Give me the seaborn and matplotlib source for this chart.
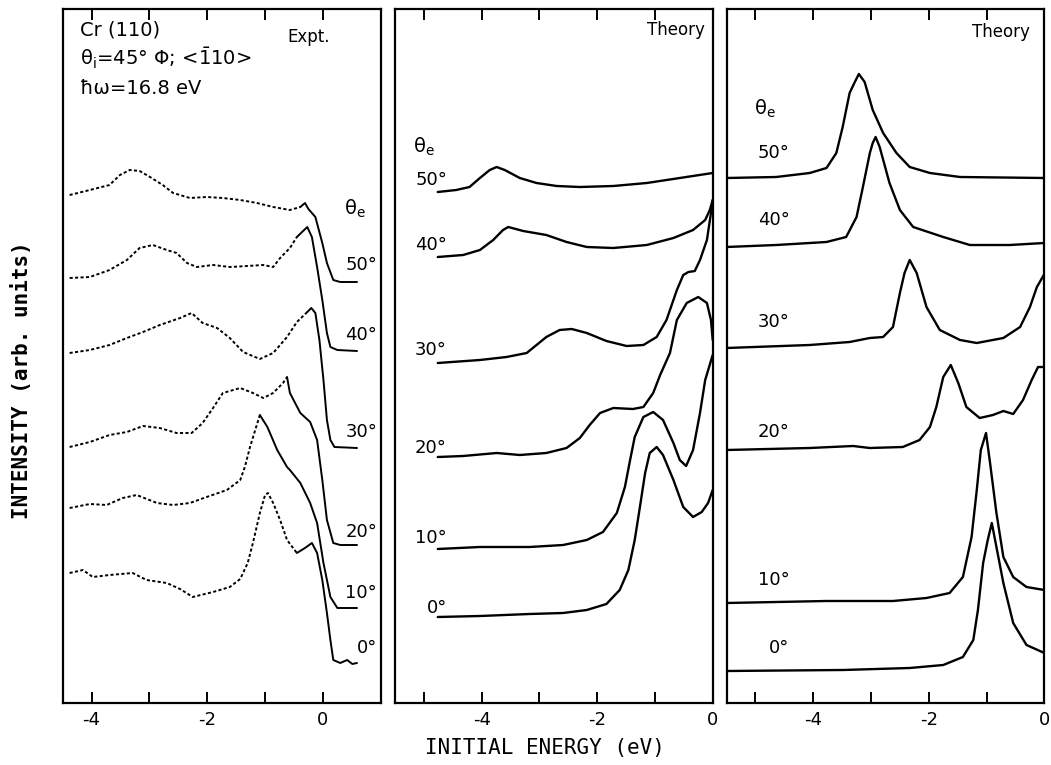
import numpy as np
import pandas as pd
import matplotlib
matplotlib.use("Agg")
import matplotlib.pyplot as plt
import seaborn as sns
from matplotlib.ticker import MultipleLocator, FuncFormatter

# ---------------- data (energy in eV, stacked intensity in arb. units) ----------------
angles = [50, 40, 30, 20, 10, 0]
angle_labels = ["50°", "40°", "30°", "20°", "10°", "0°"]

# Experiment (panel 1); split_x = energy where the trace turns from dotted to solid
expt50_x = [-4.38, -4.03, -3.69, -3.51, -3.34, -3.17, -2.99, -2.77, -2.59, -2.30, -2.01, -1.73, -1.43, -1.14, -0.86, -0.57, -0.39, -0.31, -0.25, -0.13, -0.01, 0.07, 0.18, 0.30, 0.59]
expt50_y = [50.8, 51.3, 51.8, 52.8, 53.3, 53.2, 52.6, 51.8, 51.0, 50.5, 50.6, 50.5, 50.3, 50.0, 49.6, 49.3, 49.6, 50.0, 49.4, 48.6, 46.0, 44.0, 42.3, 42.1, 42.1]
expt40_x = [-4.38, -4.03, -3.69, -3.39, -3.17, -2.94, -2.70, -2.53, -2.35, -2.18, -1.90, -1.61, -1.31, -1.03, -0.86, -0.74, -0.57, -0.45, -0.27, -0.19, -0.10, -0.01, 0.07, 0.13, 0.25, 0.59]
expt40_y = [42.5, 42.6, 43.3, 44.3, 45.5, 45.8, 45.3, 45.0, 44.0, 43.6, 43.8, 43.6, 43.7, 43.8, 43.6, 44.5, 45.5, 46.6, 47.6, 46.6, 43.6, 40.3, 37.0, 35.6, 35.3, 35.2]
expt30_x = [-4.38, -4.03, -3.69, -3.39, -3.11, -2.82, -2.47, -2.27, -2.08, -1.83, -1.61, -1.38, -1.09, -0.86, -0.62, -0.45, -0.27, -0.20, -0.13, -0.06, 0.01, 0.07, 0.13, 0.20, 0.59]
expt30_y = [35.0, 35.3, 35.8, 36.5, 37.1, 37.8, 38.5, 39.0, 38.0, 37.5, 36.5, 35.1, 34.4, 35.0, 36.6, 38.1, 39.1, 39.5, 39.0, 36.3, 32.3, 28.3, 26.3, 25.6, 25.5]
expt20_x = [-4.38, -4.03, -3.69, -3.39, -3.11, -2.82, -2.53, -2.27, -2.08, -1.90, -1.73, -1.43, -1.21, -1.03, -0.86, -0.69, -0.62, -0.57, -0.39, -0.22, -0.10, -0.01, 0.07, 0.18, 0.30, 0.59]
expt20_y = [25.6, 26.1, 26.8, 27.1, 27.7, 27.5, 27.0, 27.0, 28.0, 29.5, 31.0, 31.5, 31.0, 30.5, 31.0, 32.0, 32.6, 31.0, 29.0, 28.1, 26.3, 22.3, 18.3, 16.0, 15.8, 15.8]
expt10_x = [-4.38, -4.03, -3.74, -3.46, -3.22, -2.87, -2.59, -2.30, -2.01, -1.66, -1.43, -1.35, -1.26, -1.17, -1.09, -0.96, -0.79, -0.62, -0.57, -0.39, -0.22, -0.10, 0.01, 0.13, 0.25, 0.59]
expt10_y = [19.5, 19.9, 19.8, 20.5, 20.8, 20.0, 19.8, 20.0, 20.6, 21.3, 22.3, 23.6, 25.6, 27.3, 28.8, 27.6, 25.3, 23.6, 23.3, 22.0, 20.0, 18.0, 14.0, 10.6, 9.5, 9.5]
expt0_x = [-4.38, -4.15, -3.98, -3.69, -3.29, -3.05, -2.70, -2.47, -2.25, -1.90, -1.61, -1.43, -1.30, -1.21, -1.09, -1.00, -0.95, -0.86, -0.74, -0.62, -0.45, -0.31, -0.19, -0.10, -0.01, 0.07, 0.13, 0.18, 0.30, 0.42, 0.51, 0.59]
expt0_y = [13.0, 13.3, 12.6, 12.8, 13.0, 12.3, 12.0, 11.4, 10.6, 11.1, 11.6, 12.4, 14.0, 16.0, 19.0, 20.8, 21.0, 20.0, 18.3, 16.3, 15.0, 15.5, 16.0, 15.0, 12.3, 9.0, 6.3, 4.3, 4.0, 4.3, 3.9, 4.0]
expt_split = [-0.39, -0.45, -0.27, -0.62, -1.09, -0.45]

# Theory, panel 2
th2_50_x = [-4.76, -4.44, -4.21, -4.03, -3.86, -3.74, -3.60, -3.34, -3.05, -2.70, -2.30, -1.72, -1.14, -0.57, 0.0]
th2_50_y = [51.1, 51.3, 51.6, 52.5, 53.3, 53.6, 53.3, 52.5, 52.0, 51.7, 51.6, 51.7, 52.0, 52.5, 53.0]
th2_40_x = [-4.76, -4.32, -4.03, -3.80, -3.63, -3.54, -3.28, -2.88, -2.53, -2.18, -1.72, -1.14, -0.68, -0.34, -0.13, -0.05, 0.0]
th2_40_y = [44.6, 44.8, 45.3, 46.3, 47.3, 47.6, 47.2, 46.8, 46.1, 45.6, 45.5, 45.8, 46.5, 47.3, 48.3, 49.3, 50.3]
th2_30_x = [-4.76, -4.03, -3.57, -3.22, -3.05, -2.88, -2.65, -2.44, -2.18, -1.84, -1.49, -1.20, -0.97, -0.80, -0.62, -0.51, -0.42, -0.31, -0.22, -0.10, -0.03, 0.0]
th2_30_y = [34.0, 34.3, 34.6, 35.0, 35.8, 36.6, 37.3, 37.4, 37.0, 36.2, 35.7, 35.8, 36.6, 38.3, 41.3, 42.8, 43.1, 43.2, 44.3, 46.3, 49.0, 50.3]
th2_20_x = [-4.76, -4.32, -3.74, -3.34, -2.88, -2.53, -2.30, -2.13, -1.95, -1.72, -1.38, -1.20, -1.03, -0.91, -0.74, -0.62, -0.45, -0.25, -0.10, -0.03, 0.0]
th2_20_y = [24.6, 24.7, 25.0, 24.8, 25.0, 25.5, 26.5, 27.8, 29.0, 29.5, 29.4, 29.6, 31.0, 32.8, 35.0, 38.3, 40.0, 40.6, 40.0, 38.3, 36.3]
th2_10_x = [-4.76, -4.03, -3.17, -2.59, -2.18, -1.90, -1.66, -1.52, -1.43, -1.35, -1.20, -1.03, -0.86, -0.68, -0.57, -0.46, -0.34, -0.22, -0.13, 0.0]
th2_10_y = [15.4, 15.6, 15.6, 15.8, 16.3, 17.1, 19.0, 21.6, 24.3, 26.6, 28.6, 29.1, 28.3, 26.0, 24.3, 23.7, 25.3, 29.0, 32.3, 34.8]
th2_0_x = [-4.76, -4.03, -3.17, -2.59, -2.18, -1.84, -1.61, -1.46, -1.35, -1.26, -1.17, -1.09, -0.97, -0.86, -0.68, -0.51, -0.34, -0.19, -0.08, 0.0]
th2_0_y = [8.6, 8.7, 8.9, 9.0, 9.3, 9.9, 11.3, 13.3, 16.3, 19.6, 23.0, 25.0, 25.6, 24.8, 22.3, 19.6, 18.6, 19.1, 20.0, 21.3]

# Theory, panel 3
th3_50_x = [-5.5, -4.64, -4.06, -3.77, -3.60, -3.49, -3.37, -3.28, -3.21, -3.11, -2.97, -2.79, -2.56, -2.33, -1.98, -1.46, 0.0]
th3_50_y = [52.5, 52.6, 53.0, 53.5, 55.0, 57.6, 61.0, 62.1, 62.9, 62.1, 59.3, 57.0, 55.0, 53.6, 53.0, 52.6, 52.5]
th3_40_x = [-5.5, -4.64, -3.77, -3.43, -3.25, -3.14, -3.02, -2.97, -2.92, -2.85, -2.68, -2.50, -2.27, -1.75, -1.29, -0.60, 0.0]
th3_40_y = [45.6, 45.8, 46.1, 46.6, 48.6, 51.6, 55.0, 56.0, 56.6, 55.6, 52.0, 49.3, 47.6, 46.6, 45.8, 45.8, 46.0]
th3_30_x = [-5.5, -4.06, -3.37, -3.02, -2.79, -2.62, -2.50, -2.42, -2.33, -2.21, -2.04, -1.81, -1.46, -1.17, -0.71, -0.42, -0.25, -0.13, 0.0]
th3_30_y = [35.5, 35.8, 36.1, 36.5, 36.6, 37.6, 41.0, 43.0, 44.3, 43.0, 39.6, 37.3, 36.3, 36.0, 36.5, 37.6, 39.6, 41.6, 42.9]
th3_20_x = [-5.5, -4.06, -3.31, -3.02, -2.45, -2.16, -1.98, -1.87, -1.75, -1.62, -1.49, -1.35, -1.12, -0.89, -0.71, -0.54, -0.37, -0.22, -0.11, 0.0]
th3_20_y = [25.3, 25.5, 25.7, 25.5, 25.6, 26.3, 27.6, 29.6, 32.6, 33.8, 32.0, 29.6, 28.5, 28.8, 29.2, 28.9, 30.3, 32.3, 33.6, 33.6]
th3_10_x = [-5.5, -3.77, -2.62, -2.04, -1.64, -1.41, -1.26, -1.17, -1.10, -1.01, -0.94, -0.83, -0.71, -0.54, -0.31, 0.0]
th3_10_y = [10.0, 10.2, 10.2, 10.5, 11.0, 12.6, 16.6, 21.3, 25.3, 27.0, 24.0, 19.0, 14.6, 12.6, 11.6, 11.3]
th3_0_x = [-5.5, -3.49, -2.33, -1.75, -1.41, -1.23, -1.15, -1.06, -0.98, -0.91, -0.83, -0.71, -0.54, -0.31, 0.0]
th3_0_y = [3.2, 3.3, 3.5, 3.8, 4.6, 6.3, 9.3, 14.0, 16.3, 18.0, 15.6, 12.0, 8.0, 5.8, 5.0]

expt_x = [expt50_x, expt40_x, expt30_x, expt20_x, expt10_x, expt0_x]
expt_y = [expt50_y, expt40_y, expt30_y, expt20_y, expt10_y, expt0_y]
th2_x = [th2_50_x, th2_40_x, th2_30_x, th2_20_x, th2_10_x, th2_0_x]
th2_y = [th2_50_y, th2_40_y, th2_30_y, th2_20_y, th2_10_y, th2_0_y]
th3_x = [th3_50_x, th3_40_x, th3_30_x, th3_20_x, th3_10_x, th3_0_x]
th3_y = [th3_50_y, th3_40_y, th3_30_y, th3_20_y, th3_10_y, th3_0_y]

# ---------------- frames ----------------
rows = []
for a, xs, ys, sp in zip(angles, expt_x, expt_y, expt_split):
    for x, y in zip(xs, ys):
        if x <= sp + 1e-9:
            rows.append(dict(energy=x, intensity=y, seg=f"{a}d", part="dotted"))
        if x >= sp - 1e-9:
            rows.append(dict(energy=x, intensity=y, seg=f"{a}s", part="solid"))
df_expt = pd.DataFrame(rows)

def theory_frame(xl, yl):
    r = []
    for a, xs, ys in zip(angles, xl, yl):
        for x, y in zip(xs, ys):
            r.append(dict(energy=x, intensity=y, angle=a))
    return pd.DataFrame(r)

df_th2 = theory_frame(th2_x, th2_y)
df_th3 = theory_frame(th3_x, th3_y)

# ---------------- style ----------------
sns.set_theme(style="white")
plt.rcParams["font.family"] = ["DejaVu Sans"]
plt.rcParams["axes.unicode_minus"] = False
plt.rcParams["mathtext.default"] = "regular"
plt.rcParams["text.color"] = "black"
plt.rcParams["xtick.color"] = "black"
plt.rcParams["xtick.labelcolor"] = "black"

W, H = 1051, 765
fig = plt.figure(figsize=(W / 100, H / 100), dpi=100)
top_px, bot_px = 9, 703
def add_ax(l, r):
    return fig.add_axes([l / W, (H - bot_px) / H, (r - l) / W, (bot_px - top_px) / H])

ax1 = add_ax(62.7, 380.7)
ax2 = add_ax(395.0, 712.7)
ax3 = add_ax(726.5, 1044.4)

LW = 1.7
sns.lineplot(data=df_expt, x="energy", y="intensity", units="seg", estimator=None,
             sort=False, style="part", dashes={"dotted": (1.6, 1.2), "solid": ""},
             color="black", lw=1.4, legend=False, ax=ax1)
sns.lineplot(data=df_th2, x="energy", y="intensity", units="angle", estimator=None,
             sort=False, color="black", lw=LW, legend=False, ax=ax2)
sns.lineplot(data=df_th3, x="energy", y="intensity", units="angle", estimator=None,
             sort=False, color="black", lw=LW, legend=False, ax=ax3)
for ax in (ax1, ax2, ax3):
    for ln in ax.get_lines():
        ln.set_solid_joinstyle("round")
        ln.set_solid_capstyle("round")

fmt = FuncFormatter(lambda v, p: f"{int(round(v))}" if abs(round(v)) % 2 == 0 else "")
for ax, xlim in [(ax1, (-4.5, 1.0)), (ax2, (-5.5, 0.0)), (ax3, (-5.5, 0.0))]:
    ax.set_xlim(*xlim)
    ax.set_ylim(0, 69.4)
    ax.set_xlabel("")
    ax.set_ylabel("")
    ax.set_yticks([])
    ax.xaxis.set_major_locator(MultipleLocator(1))
    ax.xaxis.set_major_formatter(fmt)
    ax.tick_params(axis="x", direction="in", length=8, width=1.4, top=True, bottom=True,
                   labelsize=13, pad=6, colors="black")
    for s in ax.spines.values():
        s.set_linewidth(1.6)
        s.set_color("black")
        s.set_visible(True)

# Panel annotations
ax1.text(0.054, 0.970, "Cr (110)", transform=ax1.transAxes, fontsize=14, va="center", ha="left")
ax1.text(0.054, 0.929, r"θ$_i$=45° Φ; <$\bar{1}$10>", transform=ax1.transAxes, fontsize=14, va="center", ha="left")
ax1.text(0.054, 0.886, "ħω=16.8 eV", transform=ax1.transAxes, fontsize=14, va="center", ha="left")
ax1.text(0.705, 0.960, "Expt.", transform=ax1.transAxes, fontsize=12, va="center", ha="left")
ax2.text(0.976, 0.970, "Theory", transform=ax2.transAxes, fontsize=12, va="center", ha="right")
ax3.text(0.954, 0.967, "Theory", transform=ax3.transAxes, fontsize=12, va="center", ha="right")

# angle labels (data coords)
lab1_y = [43.8, 36.8, 27.1, 17.1, 11.0, 5.5]
lab2_y = [52.3, 45.8, 35.3, 25.5, 16.5, 9.5]
lab3_y = [55.0, 48.3, 38.1, 27.1, 12.3, 5.5]
for t, y in zip(angle_labels, lab1_y):
    ax1.text(0.94, y, t, fontsize=13, ha="right", va="center")
for t, y in zip(angle_labels, lab2_y):
    ax2.text(-4.60, y, t, fontsize=13, ha="right", va="center")
for t, y in zip(angle_labels, lab3_y):
    ax3.text(-4.41, y, t, fontsize=13, ha="right", va="center")
ax1.text(0.36, 49.4, r"θ$_e$", fontsize=14, ha="left", va="center")
ax2.text(-5.19, 55.6, r"θ$_e$", fontsize=14, ha="left", va="center")
ax3.text(-5.02, 59.4, r"θ$_e$", fontsize=14, ha="left", va="center")

fig.text(22 / W, 1 - 380 / H, "INTENSITY (arb. units)", rotation=90, ha="center", va="center",
         fontsize=15, family="DejaVu Sans Mono", fontweight="bold", color="black")
fig.text(545 / W, 1 - 748 / H, "INITIAL ENERGY (eV)", ha="center", va="center",
         fontsize=15, family="DejaVu Sans Mono", color="black")

fig.savefig("out.png", dpi=100, facecolor="white")
